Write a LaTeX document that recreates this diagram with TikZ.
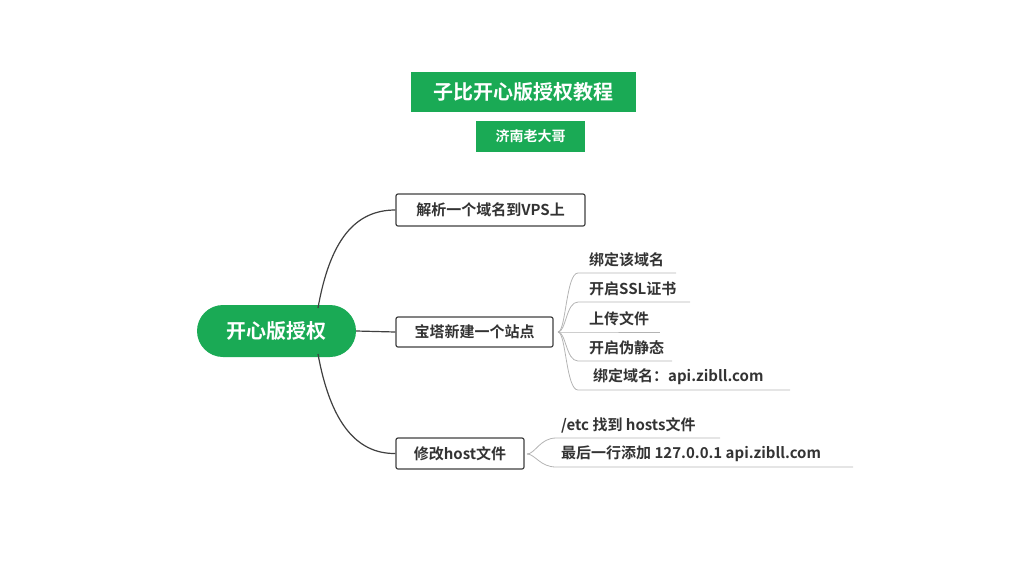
\documentclass[tikz,border=0pt]{standalone}
\usepackage{fontspec}
\setmainfont{Noto Sans CJK SC}[BoldFont={* Bold}]
\definecolor{gr}{HTML}{1AAA55}
\definecolor{ln}{HTML}{B4B4B4}
\begin{document}
\begin{tikzpicture}[x=1pt,y=-1pt,
  gbox/.style={fill=gr,text=white,font=\bfseries\fontsize{#1}{#1}\selectfont,inner sep=0pt},
  bbox/.style={draw=black!75,line width=1.2pt,rounded corners=2pt,fill=white,font=\bfseries\fontsize{15}{15}\selectfont,inner sep=0pt,text=black!80},
  leaf/.style={anchor=west,font=\bfseries\fontsize{15}{15}\selectfont,text=black!80,inner sep=0pt},
  main/.style={draw=black!75,line width=1.2pt},
  sub/.style={draw=ln,line width=0.8pt}]
\useasboundingbox (0,0) rectangle (1024,576);
\node[gbox=20,minimum width=225pt,minimum height=40pt] (t) at (523.5,92) {子比开心版授权教程};
\node[gbox=14,minimum width=109pt,minimum height=31pt] (s) at (530.5,136.5) {济南老大哥};
\node[gbox=20,minimum width=159pt,minimum height=52pt,rounded corners=26pt] (r) at (276.5,331) {开心版授权};
\node[bbox,minimum width=189pt,minimum height=32pt] (b1) at (490.5,210) {解析一个域名到VPS上};
\node[bbox,minimum width=157pt,minimum height=30pt] (b2) at (474.5,332) {宝塔新建一个站点};
\node[bbox,minimum width=128pt,minimum height=31pt] (b3) at (460,453.5) {修改host文件};
\coordinate (rt) at (318,308);
\coordinate (rb) at (318,354);
\draw[main] (rt) .. controls (330,240) and (355,210) .. (b1.west);
\draw[main] (r.east) -- (b2.west);
\draw[main] (rb) .. controls (330,420) and (355,454) .. (b3.west);
% leaves of b2
\coordinate (f2) at (558,332);
\foreach \n/\y/\e/\t/\xs in {l1/273/676/绑定该域名/589, l2/302/690/开启SSL证书/589, l3/332/660/上传文件/589, l4/361/672/开启伪静态/589, l5/390/790/绑定域名：api.zibll.com/593}{
  \node[leaf] (\n) at (\xs,\y-13) {\t};
  \coordinate (\n e) at (\e,\y);
  \draw[sub] (f2) .. controls (566,332) and (566,\y) .. (578,\y) -- (\n e);
}
\coordinate (f3) at (527,454);
\foreach \n/\y/\e/\t in {m1/438/720/{/etc 找到 hosts文件}, m2/467/853/{最后一行添加 127.0.0.1 api.zibll.com}}{
  \node[leaf] (\n) at (561,\y-13) {\t};
  \coordinate (\n e) at (\e,\y);
  \draw[sub] (f3) .. controls (535,454) and (540,\y) .. (556,\y) -- (\n e);
}
\end{tikzpicture}
\end{document}
